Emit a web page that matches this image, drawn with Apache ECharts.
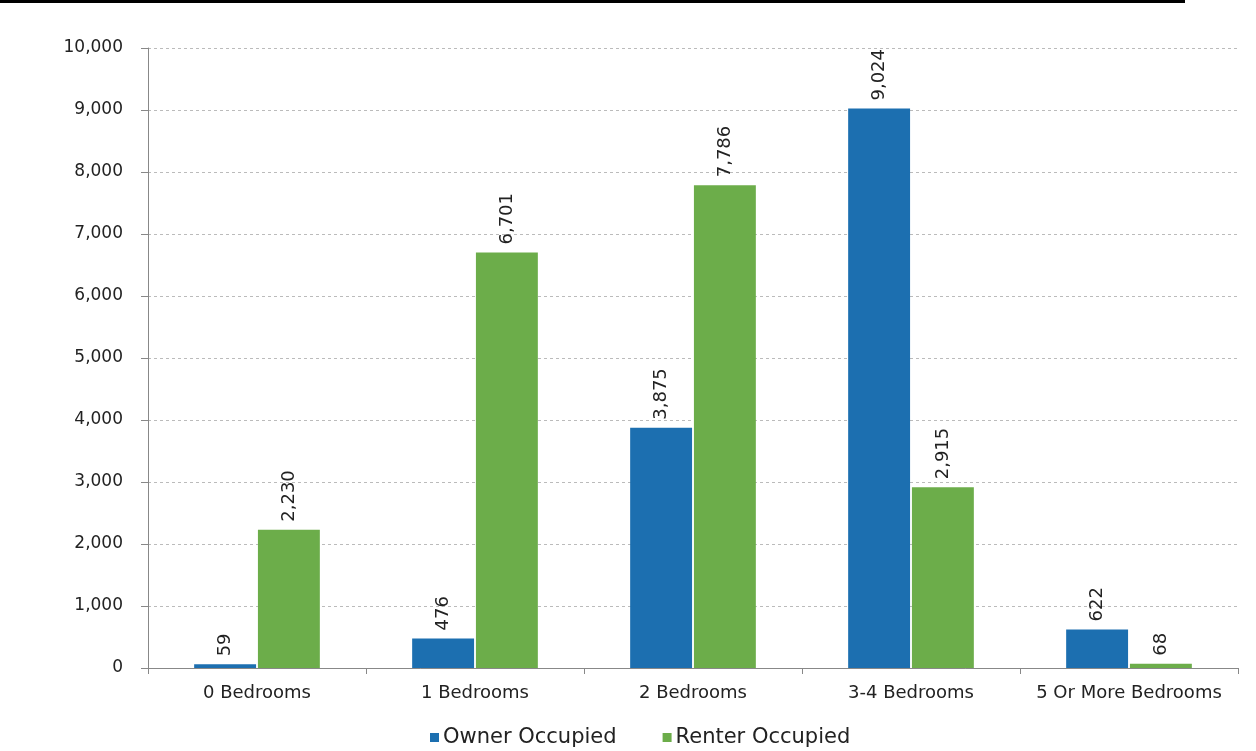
<!DOCTYPE html>
<html><head><meta charset="utf-8">
<script src="https://cdn.jsdelivr.net/npm/echarts@6/dist/echarts.min.js"></script>
<style>html,body{margin:0;padding:0;background:#fff}#c{width:1256px;height:751px}</style>
</head><body><div id="c"></div>
<script>
const categories = ['0 Bedrooms','1 Bedrooms','2 Bedrooms','3-4 Bedrooms','5 Or More Bedrooms'];
const ownerOccupied = [59, 476, 3875, 9024, 622];
const renterOccupied = [2230, 6701, 7786, 2915, 68];
const seriesNames = ['Owner Occupied','Renter Occupied'];

const font = 'DejaVu Sans';
const chart = echarts.init(document.getElementById('c'));
const lbl = {
  show: true, position: 'top', rotate: 90, align: 'left', verticalAlign: 'middle',
  distance: 8, color: '#222', fontSize: 18, fontFamily: font,
  formatter: p => p.value.toLocaleString('en-US')
};
chart.setOption({
  animation: false,
  graphic: [{type:'rect', shape:{x:0,y:0,width:1185,height:3}, style:{fill:'#000'}}],
  grid: {left:148, right:18, top:48, bottom:83},
  legend: {
    data: seriesNames, top: 727, left: 430, padding: 0, itemWidth: 9, itemHeight: 9, itemGap: 46,
    icon: 'rect', textStyle: {fontFamily: font, fontSize: 21, color: '#222', padding: [0,0,0,-1]}
  },
  xAxis: {
    type: 'category', data: categories,
    axisLine: {lineStyle: {color: '#888'}},
    axisTick: {show: true, length: 6, lineStyle: {color: '#888'}},
    axisLabel: {interval: 0, fontFamily: font, fontSize: 18, color: '#222', margin: 16}
  },
  yAxis: {
    type: 'value', min: 0, max: 10000, interval: 1000,
    axisLine: {show: true, lineStyle: {color: '#888'}},
    axisTick: {show: true, length: 7, lineStyle: {color: '#888'}},
    axisLabel: {fontFamily: font, fontSize: 17, color: '#222', margin: 25,
      formatter: v => v.toLocaleString('en-US')},
    splitLine: {lineStyle: {color: '#bbb', type: [3,3]}}
  },
  series: [
    {name: seriesNames[0], type: 'bar', data: ownerOccupied, barWidth: '28.4%', barGap: '3%',
     itemStyle: {color: '#1c6fb0'}, label: lbl},
    {name: seriesNames[1], type: 'bar', data: renterOccupied, barWidth: '28.4%',
     itemStyle: {color: '#6cad4a'}, label: lbl}
  ]
});
</script></body></html>
